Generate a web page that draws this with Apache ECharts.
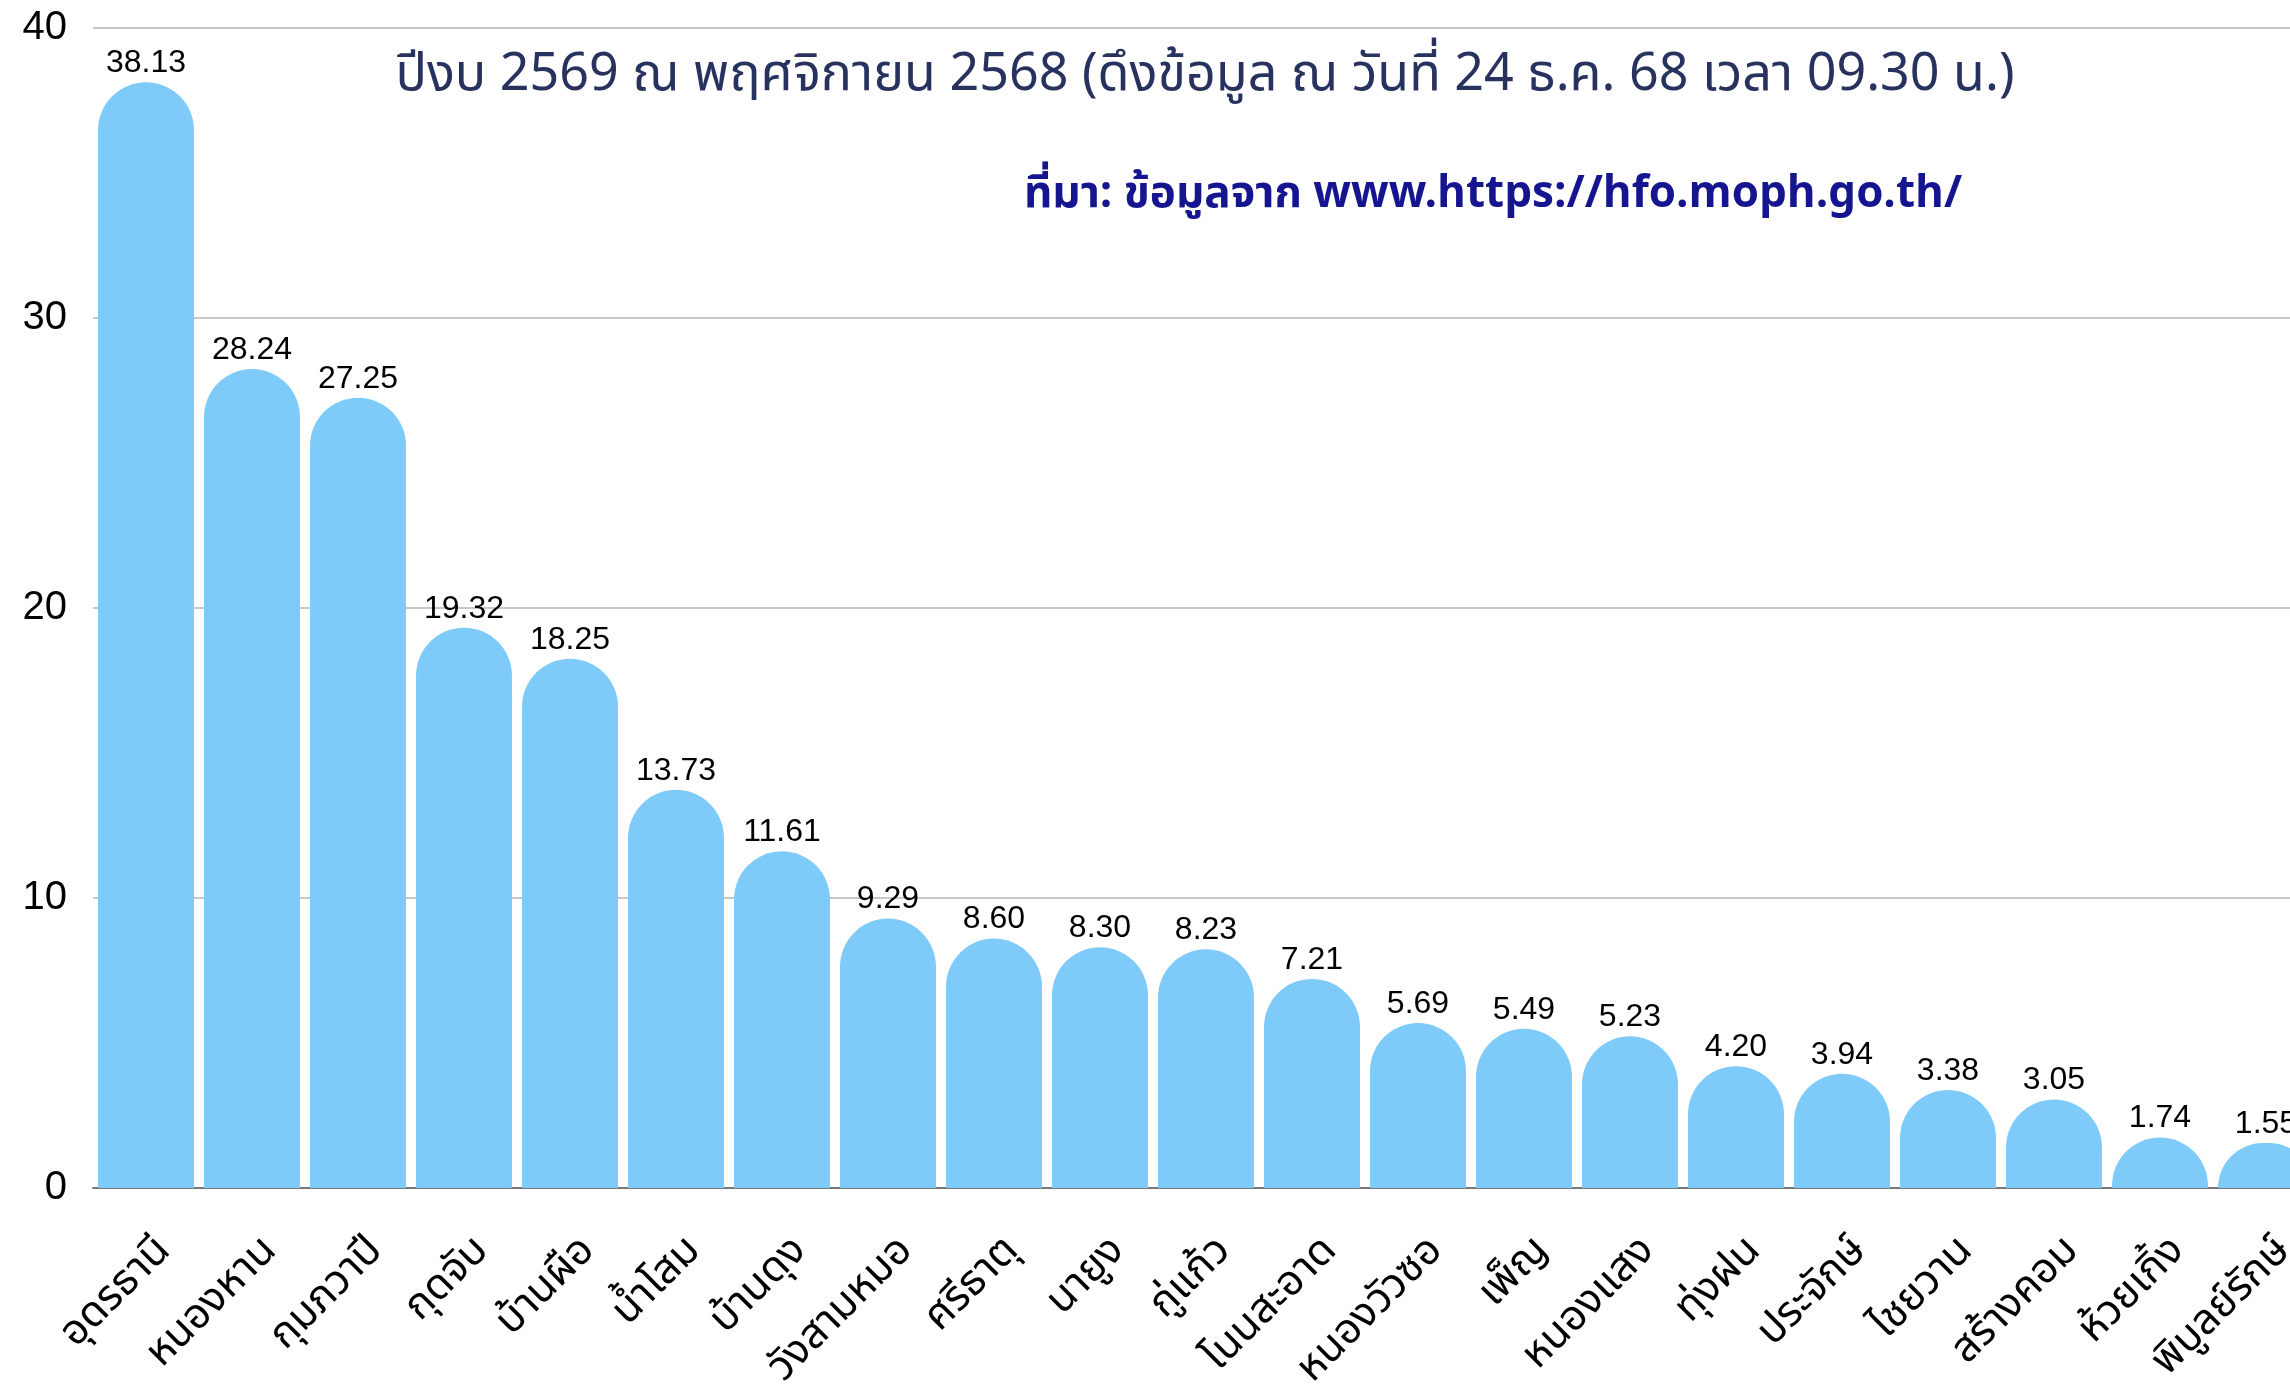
<!DOCTYPE html>
<html>
<head>
    <meta charset="utf-8">
    <title>ปีงบ 2569</title>
    <style>
        html, body { margin: 0; padding: 0; background: #fff; }
        #main { width: 2290px; height: 1390px; }
    </style>
</head>
<body>
    <div id="main"></div>
    <script src="https://cdn.jsdelivr.net/npm/echarts@6/dist/echarts.min.js"></script>
    <script>
        // อำเภอ
        var districts = ['อุดรธานี', 'หนองหาน', 'กุมภวาปี', 'กุดจับ', 'บ้านผือ', 'น้ำโสม', 'บ้านดุง',
            'วังสามหมอ', 'ศรีธาตุ', 'นายูง', 'กู่แก้ว', 'โนนสะอาด', 'หนองวัวซอ', 'เพ็ญ', 'หนองแสง',
            'ทุ่งฝน', 'ประจักษ์', 'ไชยวาน', 'สร้างคอม', 'ห้วยเกิ้ง', 'พิบูลย์รักษ์'];
        // ค่าของแต่ละอำเภอ
        var values = [38.13, 28.24, 27.25, 19.32, 18.25, 13.73, 11.61, 9.29, 8.60, 8.30, 8.23,
            7.21, 5.69, 5.49, 5.23, 4.20, 3.94, 3.38, 3.05, 1.74, 1.55];
        var titleText = 'ปีงบ 2569 ณ พฤศจิกายน 2568 (ดึงข้อมูล ณ วันที่ 24 ธ.ค. 68 เวลา 09.30 น.)';
        var sourceText = 'ที่มา: ข้อมูลจาก www.https://hfo.moph.go.th/';

        var thaiFont = "'Noto Sans Thai', 'Noto Sans Thai Looped', 'Loma', 'Garuda', 'Noto Sans', 'DejaVu Sans', sans-serif";
        var numFont = "'Liberation Sans', Arial, sans-serif";

        // ตำแหน่งกราฟ (ป้ายชื่ออำเภอเลื่อนไปทางขวาเล็กน้อยแบบ Excel)
        var plotLeft = 93, plotTop = 28, plotBottom = 1390 - 1188, plotWidth = 2226;
        var labelShift = 20;

        var chart = echarts.init(document.getElementById('main'));
        var option = {
            animation: false,
            backgroundColor: '#fff',
            title: [{
                text: titleText,
                left: 1200,
                top: 48,
                textAlign: 'center',
                textStyle: { color: '#28325f', fontSize: 52, fontWeight: 'normal', fontFamily: thaiFont }
            }, {
                text: sourceText,
                left: 1488,
                top: 171,
                textAlign: 'center',
                textStyle: { color: '#15158f', fontSize: 44, fontWeight: 'bold', fontFamily: thaiFont }
            }],
            grid: [{
                left: plotLeft, top: plotTop, width: plotWidth, bottom: plotBottom,
                outerBoundsMode: 'none', containLabel: false
            }, {
                left: plotLeft + labelShift, top: plotTop, width: plotWidth, bottom: plotBottom,
                outerBoundsMode: 'none', containLabel: false
            }],
            xAxis: [{
                type: 'category',
                gridIndex: 0,
                data: districts,
                axisTick: { show: false },
                axisLine: { lineStyle: { color: '#777', width: 2 } },
                axisLabel: { show: false }
            }, {
                // แกนสำหรับป้ายชื่ออำเภอเท่านั้น
                type: 'category',
                gridIndex: 1,
                data: districts,
                axisTick: { show: false },
                axisLine: { show: false },
                axisLabel: {
                    rotate: 45,
                    interval: 0,
                    margin: 58,
                    color: '#000',
                    fontSize: 42,
                    fontFamily: thaiFont
                }
            }],
            yAxis: [{
                type: 'value',
                gridIndex: 0,
                min: 0,
                max: 40,
                interval: 10,
                axisLine: { show: false },
                axisTick: { show: false },
                splitLine: { lineStyle: { color: '#c8c8c8', width: 2 } },
                axisLabel: { margin: 26, color: '#000', fontSize: 40, fontFamily: numFont }
            }, {
                type: 'value',
                gridIndex: 1,
                min: 0,
                max: 40,
                show: false
            }],
            series: [{
                type: 'bar',
                xAxisIndex: 0,
                yAxisIndex: 0,
                data: values,
                barCategoryGap: '9.5%',
                itemStyle: { color: '#7ecbfa', borderRadius: [48, 48, 0, 0] },
                label: {
                    show: true,
                    position: 'top',
                    distance: 3,
                    color: '#000',
                    fontSize: 32,
                    fontFamily: numFont,
                    formatter: function (p) { return p.value.toFixed(2); }
                }
            }]
        };
        chart.setOption(option);
        window.addEventListener('resize', function () { chart.resize(); });
    </script>
</body>
</html>
